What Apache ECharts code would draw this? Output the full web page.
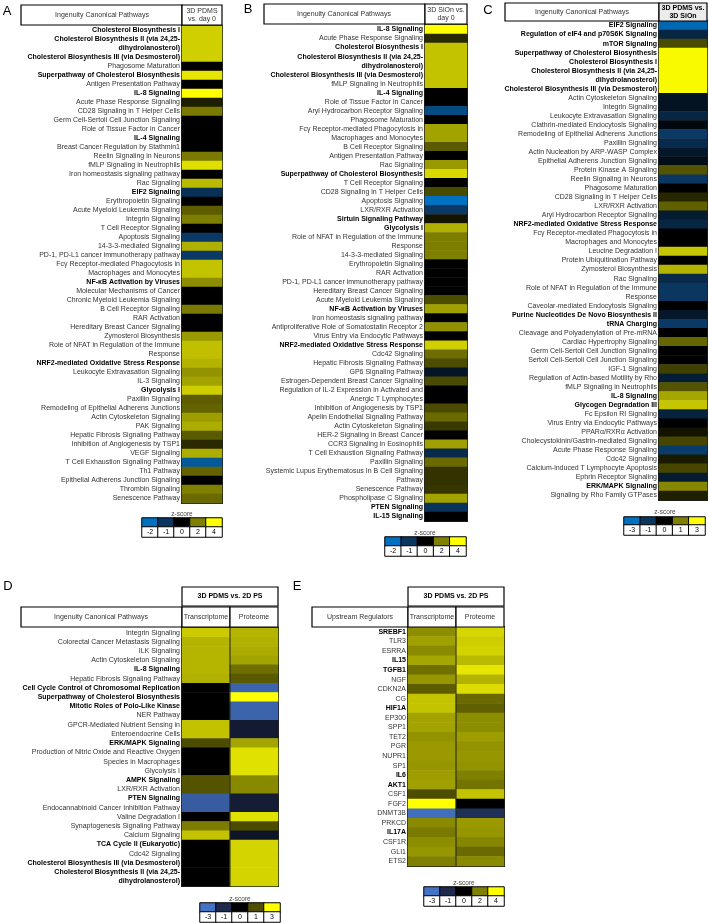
<!DOCTYPE html>
<html><head><meta charset="utf-8">
<script src="https://cdn.jsdelivr.net/npm/echarts@6/dist/echarts.min.js"></script>
<style>html,body{margin:0;padding:0;background:#fff}#c{width:709px;height:923px}</style>
</head><body><div id="c"></div>
<script>
// ---------------- DATA ----------------
const labelsA = ['Cholesterol Biosynthesis I','Cholesterol Biosynthesis II (via 24,25-','dihydrolanosterol)','Cholesterol Biosynthesis III (via Desmosterol)','Phagosome Maturation','Superpathway of Cholesterol Biosynthesis','Antigen Presentation Pathway','IL-8 Signaling','Acute Phase Response Signaling','CD28 Signaling in T Helper Cells','Germ Cell-Sertoli Cell Junction Signaling','Role of Tissue Factor in Cancer','IL-4 Signaling','Breast Cancer Regulation by Stathmin1','Reelin Signaling in Neurons','fMLP Signaling in Neutrophils','Iron homeostasis signaling pathway','Rac Signaling','EIF2 Signaling','Erythropoietin Signaling','Acute Myeloid Leukemia Signaling','Integrin Signaling','T Cell Receptor Signaling','Apoptosis Signaling','14-3-3-mediated Signaling','PD-1, PD-L1 cancer immunotherapy pathway','Fcγ Receptor-mediated Phagocytosis in','Macrophages and Monocytes','NF-κB Activation by Viruses','Molecular Mechanisms of Cancer','Chronic Myeloid Leukemia Signaling','B Cell Receptor Signaling','RAR Activation','Hereditary Breast Cancer Signaling','Zymosterol Biosynthesis','Role of NFAT in Regulation of the Immune','Response','NRF2-mediated Oxidative Stress Response','Leukocyte Extravasation Signaling','IL-3 Signaling','Glycolysis I','Paxillin Signaling','Remodeling of Epithelial Adherens Junctions','Actin Cytoskeleton Signaling','PAK Signaling','Hepatic Fibrosis Signaling Pathway','Inhibition of Angiogenesis by TSP1','VEGF Signaling','T Cell Exhaustion Signaling Pathway','Th1 Pathway','Epithelial Adherens Junction Signaling','Thrombin Signaling','Senescence Pathway'];
const boldA = [0,1,2,3,5,7,12,18,28,37,40];
const valuesA = [3.25,3.25,3.25,3.25,0,3.6,0,4,0.45,1.9,0,0,0,0,1.9,3.5,0,2.9,-0.9,0,1.45,1.95,0,-1.05,2.75,-1.05,3.05,3.05,2.2,0,0,1.9,0,0,2.4,3.0,3.0,2.8,2.3,2.55,3.2,1.45,1.55,2.45,2.7,1.4,0.65,2.7,-1.6,1.55,0,2.0,1.65];

const labelsB = ['IL-8 Signaling','Acute Phase Response Signaling','Cholesterol Biosynthesis I','Cholesterol Biosynthesis II (via 24,25-','dihydrolanosterol)','Cholesterol Biosynthesis III (via Desmosterol)','fMLP Signaling in Neutrophils','IL-4 Signaling','Role of Tissue Factor in Cancer','Aryl Hydrocarbon Receptor Signaling','Phagosome Maturation','Fcγ Receptor-mediated Phagocytosis in','Macrophages and Monocytes','B Cell Receptor Signaling','Antigen Presentation Pathway','Rac Signaling','Superpathway of Cholesterol Biosynthesis','T Cell Receptor Signaling','CD28 Signaling in T Helper Cells','Apoptosis Signaling','LXR/RXR Activation','Sirtuin Signaling Pathway','Glycolysis I','Role of NFAT in Regulation of the Immune','Response','14-3-3-mediated Signaling','Erythropoietin Signaling','RAR Activation','PD-1, PD-L1 cancer immunotherapy pathway','Hereditary Breast Cancer Signaling','Acute Myeloid Leukemia Signaling','NF-κB Activation by Viruses','Iron homeostasis signaling pathway','Antiproliferative Role of Somatostatin Receptor 2','Virus Entry via Endocytic Pathways','NRF2-mediated Oxidative Stress Response','Cdc42 Signaling','Hepatic Fibrosis Signaling Pathway','GP6 Signaling Pathway','Estrogen-Dependent Breast Cancer Signaling','Regulation of IL-2 Expression in Activated and','Anergic T Lymphocytes','Inhibition of Angiogenesis by TSP1','Apelin Endothelial Signaling Pathway','Actin Cytoskeleton Signaling','HER-2 Signaling in Breast Cancer','CCR3 Signaling in Eosinophils','T Cell Exhaustion Signaling Pathway','Paxillin Signaling','Systemic Lupus Erythematosus In B Cell Signaling','Pathway','Senescence Pathway','Phospholipase C Signaling','PTEN Signaling','IL-15 Signaling'];
const boldB = [0,2,3,4,5,7,16,21,22,31,35,53,54];
const valuesB = [4,0.65,3.05,3.05,3.05,3.05,3.05,0,0,-1.35,0,2.55,2.55,1.4,0,2.4,3.4,0,1.15,-2,-1.05,0.3,2.75,1.95,1.95,2.0,0,0,0,0,1.2,2.5,0,2.25,0,3.25,1.7,1.2,-0.4,1.15,0,0,1.15,1.65,0.9,0,2.5,-0.8,1.65,0.8,0.8,0.85,2.55,-0.95,0];

const labelsC = ['EIF2 Signaling','Regulation of eIF4 and p70S6K Signaling','mTOR Signaling','Superpathway of Cholesterol Biosynthesis','Cholesterol Biosynthesis I','Cholesterol Biosynthesis II (via 24,25-','dihydrolanosterol)','Cholesterol Biosynthesis III (via Desmosterol)','Actin Cytoskeleton Signaling','Integrin Signaling','Leukocyte Extravasation Signaling','Clathrin-mediated Endocytosis Signaling','Remodeling of Epithelial Adherens Junctions','Paxillin Signaling','Actin Nucleation by ARP-WASP Complex','Epithelial Adherens Junction Signaling','Protein Kinase A Signaling','Reelin Signaling in Neurons','Phagosome Maturation','CD28 Signaling in T Helper Cells','LXR/RXR Activation','Aryl Hydrocarbon Receptor Signaling','NRF2-mediated Oxidative Stress Response','Fcγ Receptor-mediated Phagocytosis in','Macrophages and Monocytes','Leucine Degradation I','Protein Ubiquitination Pathway','Zymosterol Biosynthesis','Rac Signaling','Role of NFAT in Regulation of the Immune','Response','Caveolar-mediated Endocytosis Signaling','Purine Nucleotides De Novo Biosynthesis II','tRNA Charging','Cleavage and Polyadenylation of Pre-mRNA','Cardiac Hypertrophy Signaling','Germ Cell-Sertoli Cell Junction Signaling','Sertoli Cell-Sertoli Cell Junction Signaling','IGF-1 Signaling','Regulation of Actin-based Motility by Rho','fMLP Signaling in Neutrophils','IL-8 Signaling','Glycogen Degradation III','Fc Epsilon RI Signaling','Virus Entry via Endocytic Pathways','PPARα/RXRα Activation','Cholecystokinin/Gastrin-mediated Signaling','Acute Phase Response Signaling','Cdc42 Signaling','Calcium-induced T Lymphocyte Apoptosis','Ephrin Receptor Signaling','ERK/MAPK Signaling','Signaling by Rho Family GTPases'];
const boldC = [0,1,2,3,4,5,6,7,22,32,33,41,42,51];
const valuesC = [-2.7,-0.7,0.58,2.9,2.9,2.9,2.9,2.9,-0.35,-0.35,-0.7,-0.15,-1.1,-0.8,-0.45,-0.25,0.65,-1.05,0,0.3,0.75,-0.5,-0.7,0,0,2.1,0,1.8,-0.75,-1.0,-1.0,0,-0.45,-1.1,0,0.8,0,0,0.5,-0.55,0.65,1.6,2.1,-0.65,0,0.15,0.55,-1.2,0.2,0.55,-0.5,1.1,0.25];

const labelsD = ['Integrin Signaling','Colorectal Cancer Metastasis Signaling','ILK Signaling','Actin Cytoskeleton Signaling','IL-8 Signaling','Hepatic Fibrosis Signaling Pathway','Cell Cycle Control of Chromosomal Replication','Superpathway of Cholesterol Biosynthesis','Mitotic Roles of Polo-Like Kinase','NER Pathway','GPCR-Mediated Nutrient Sensing in','Enteroendocrine Cells','ERK/MAPK Signaling','Production of Nitric Oxide and Reactive Oxygen','Species in Macrophages','Glycolysis I','AMPK Signaling','LXR/RXR Activation','PTEN Signaling','Endocannabinoid Cancer Inhibition Pathway','Valine Degradation I','Synaptogenesis Signaling Pathway','Calcium Signaling','TCA Cycle II (Eukaryotic)','Cdc42 Signaling','Cholesterol Biosynthesis III (via Desmosterol)','Cholesterol Biosynthesis II (via 24,25-','dihydrolanosterol)'];
const boldD = [4,6,7,8,12,16,18,23,25,26,27];
const transD = [2.4,2.15,2.15,2.15,2.15,2.1,0,0,0,0,2.3,2.3,0.95,0,0,0,1.05,1.05,-2.4,-2.4,0,1.5,2.3,0,0,0,0,0];
const protD = [2.15,2.1,2.05,1.95,1.35,1.1,-2.6,3,-2.6,-2.6,-0.65,-0.65,1.95,2.65,2.65,2.65,1.65,1.65,-0.7,-0.7,2.65,0.95,-0.5,2.5,2.5,2.5,2.5,2.5];

const labelsE = ['SREBF1','TLR3','ESRRA','IL15','TGFB1','NGF','CDKN2A','CG','HIF1A','EP300','SPP1','TET2','PGR','NUPR1','SP1','IL6','AKT1','CSF1','FGF2','DNMT3B','PRKCD','IL17A','CSF1R','GLI1','ETS2'];
const boldE = [0,3,4,8,15,16,21];
const transE = [2.2,2.5,2.15,2.6,1.75,2.35,1.45,3.05,3.05,2.55,2.55,2.3,2.4,2.4,2.35,2.45,2.5,1.2,4,-2.9,2.15,1.9,2.2,2.35,2.0];
const protE = [3.35,3.2,3.3,2.9,3.6,2.8,3.45,1.65,1.5,2.2,2.2,2.45,2.3,2.35,2.3,2.0,1.8,3.05,0,-1.2,2.4,2.35,2.1,1.65,2.15];

const columnsDE = ['Transcriptome','Proteome'];
const ticksA = [-2,-1,0,2,4];
const ticksB = [-2,-1,0,2,4];
const ticksC = [-3,-1,0,1,3];
const ticksD = [-3,-1,0,1,3];
const ticksE = [-3,-1,0,2,4];

// ---------------- STYLE ----------------
const FONT = 'Liberation Sans, Arial, sans-serif';
const colsA = ['#0070c0','#0a3660','#000000','#808000','#ffff00'];
const colsC = ['#0070c0','#0a3660','#000000','#808000','#ffff00'];
const colsD = ['#4472c4','#1c2a4c','#000000','#505000','#ffff00'];
const colsE = ['#4472c4','#1c2a4c','#000000','#808000','#ffff00'];

function hex2rgb(h){return [parseInt(h.slice(1,3),16),parseInt(h.slice(3,5),16),parseInt(h.slice(5,7),16)];}
function stops(ticks, cols){
  const out=[];
  for(let v=ticks[0]; v<=ticks[ticks.length-1]; v++){
    let i=0; while(i<ticks.length-2 && v>ticks[i+1]) i++;
    const t=(v-ticks[i])/(ticks[i+1]-ticks[i]);
    const a=hex2rgb(cols[i]), b=hex2rgb(cols[i+1]);
    out.push('rgb('+a.map((c,k)=>Math.round(c+(b[k]-c)*t)).join(',')+')');
  }
  return out;
}

const grids=[], xAxes=[], yAxes=[], series=[], vms=[], graphics=[];
const rich = {
  b:{fontFamily:FONT,fontSize:7,fontWeight:'bold',color:'#000'},
  n:{fontFamily:FONT,fontSize:7,color:'#333'}
};
function addPanel(g, labels, bold, cols, data){
  const gi = grids.length;
  grids.push({left:g[0],top:g[1],width:g[2],height:g[3],show:true,borderColor:'#222',borderWidth:2,backgroundColor:'transparent'});
  xAxes.push({type:'category',gridIndex:gi,data:cols,show:false});
  yAxes.push({type:'category',gridIndex:gi,data:labels,inverse:true,
    axisLine:{show:false},axisTick:{show:false},splitLine:{show:false},
    axisLabel:{interval:0,margin:2,formatter:(v,i)=>(bold.indexOf(i)>=0?'{b|':'{n|')+v+'}',rich:rich}});
  series.push({type:'heatmap',xAxisIndex:gi,yAxisIndex:gi,data:data,emphasis:{disabled:true},itemStyle:{borderWidth:0}});
  return series.length-1;
}
function addBar(g, ticks){
  const gi = grids.length;
  grids.push({left:g[0],top:g[1],width:g[2],height:g[3]});
  xAxes.push({type:'category',gridIndex:gi,data:ticks.map(String),show:false});
  yAxes.push({type:'category',gridIndex:gi,data:['c'],show:false});
  series.push({type:'heatmap',xAxisIndex:gi,yAxisIndex:gi,data:ticks.map((t,i)=>[i,0,t]),emphasis:{disabled:true},
    itemStyle:{borderColor:'#000',borderWidth:1}});
  const si = series.length-1;
  const gj = grids.length;
  grids.push({left:g[0],top:g[1]+g[3],width:g[2],height:10});
  xAxes.push({type:'category',gridIndex:gj,data:ticks.map(String),show:false});
  yAxes.push({type:'category',gridIndex:gj,data:['n'],show:false});
  series.push({type:'heatmap',xAxisIndex:gj,yAxisIndex:gj,data:ticks.map((t,i)=>[i,0,t]),emphasis:{disabled:true},
    itemStyle:{color:'#fff',borderColor:'#000',borderWidth:1},
    label:{show:true,formatter:p=>String(p.value[2]),fontFamily:FONT,fontSize:7,color:'#000'}});
  return si;
}
function addVM(ticks, cols, idx){
  vms.push({type:'continuous',show:false,dimension:2,seriesIndex:idx,min:ticks[0],max:ticks[ticks.length-1],inRange:{color:stops(ticks,cols)}});
}
function rect(x,y,w,h,fill){graphics.push({type:'rect',shape:{x:x,y:y,width:w,height:h},style:{fill:fill||'#fff',stroke:'#000',lineWidth:1.2},z:10});}
function txt(x,y,s,size,weight,color,lh){graphics.push({type:'text',x:x,y:y,z:11,style:{text:s,fontFamily:FONT,fontSize:size,fontWeight:weight||'normal',fill:color||'#333',align:'center',verticalAlign:'middle',textAlign:'center',textVerticalAlign:'middle',lineHeight:lh||size+1}});}
function vline(x,y1,y2){graphics.push({type:'line',shape:{x1:x,y1:y1,x2:x,y2:y2},style:{stroke:'#222',lineWidth:1},z:100});}

// Panel A
let m = addPanel([182,26,40,477], labelsA, boldA, ['v'], valuesA.map((v,i)=>[0,i,v]));
let b = addBar([142,518,80,9], ticksA); addVM(ticksA, colsA, [m,b]);
// Panel B
m = addPanel([425,25,42,496], labelsB, boldB, ['v'], valuesB.map((v,i)=>[0,i,v]));
b = addBar([385,537,81,9], ticksB); addVM(ticksB, colsA, [m,b]);
// Panel C
m = addPanel([659,21,48,479], labelsC, boldC, ['v'], valuesC.map((v,i)=>[0,i,v]));
b = addBar([624,517,81,8], ticksC); addVM(ticksC, colsC, [m,b]);
// Panel D
m = addPanel([182,628,96,258], labelsD, boldD, columnsDE, transD.map((v,i)=>[0,i,v]).concat(protD.map((v,i)=>[1,i,v])));
b = addBar([200,903,80,9], ticksD); addVM(ticksD, colsD, [m,b]);
// Panel E
m = addPanel([408,627,96,239], labelsE, boldE, columnsDE, transE.map((v,i)=>[0,i,v]).concat(protE.map((v,i)=>[1,i,v])));
b = addBar([424,887,80,9], ticksE); addVM(ticksE, colsE, [m,b]);

// Headers
rect(21,5,161,20); rect(182,5,40,20);
txt(102,15,'Ingenuity Canonical Pathways',7); txt(202,15,'3D PDMS\nvs. day 0',7,'normal','#333',8);
rect(264,4,161,20); rect(425,4,42,20);
txt(344,14,'Ingenuity Canonical Pathways',7); txt(446,14,'3D SiOn vs.\nday 0',7,'normal','#333',8);
rect(505,3,154,18); rect(659,3,48,18,'#ececec');
txt(582,12,'Ingenuity Canonical Pathways',7); txt(683,12,'3D PDMS vs.\n3D SiOn',7,'bold','#000',8);
rect(182,587,96,19); txt(230,596.5,'3D PDMS vs. 2D PS',7,'bold','#000');
rect(21,607,161,20); rect(182,607,48,20); rect(230,607,48,20);
txt(101,617,'Ingenuity Canonical Pathways',7); txt(206,617,columnsDE[0],7); txt(254,617,columnsDE[1],7);
rect(408,587,96,19); txt(456,596.5,'3D PDMS vs. 2D PS',7,'bold','#000');
rect(312,607,96,20); rect(408,607,48,20); rect(456,607,48,20);
txt(360,617,'Upstream Regulators',7); txt(432,617,columnsDE[0],7); txt(480,617,columnsDE[1],7);
vline(230,628,886); vline(456,627,866);
// z-score titles
txt(182,514,'z-score',6.5,'normal','#444'); txt(425,533,'z-score',6.5,'normal','#444');
txt(665,512,'z-score',6.5,'normal','#444'); txt(240,899,'z-score',6.5,'normal','#444');
txt(464,883,'z-score',6.5,'normal','#444');
// panel letters
[['A',7,11],['B',248,9],['C',488,10],['D',8,586],['E',297,586]].forEach(l=>txt(l[1],l[2],l[0],13,'normal','#000'));

const chart = echarts.init(document.getElementById('c'), null, {renderer:'canvas'});
chart.setOption({
  animation:false,
  textStyle:{fontFamily:FONT},
  grid:grids, xAxis:xAxes, yAxis:yAxes, visualMap:vms, series:series, graphic:graphics
});
</script></body></html>
